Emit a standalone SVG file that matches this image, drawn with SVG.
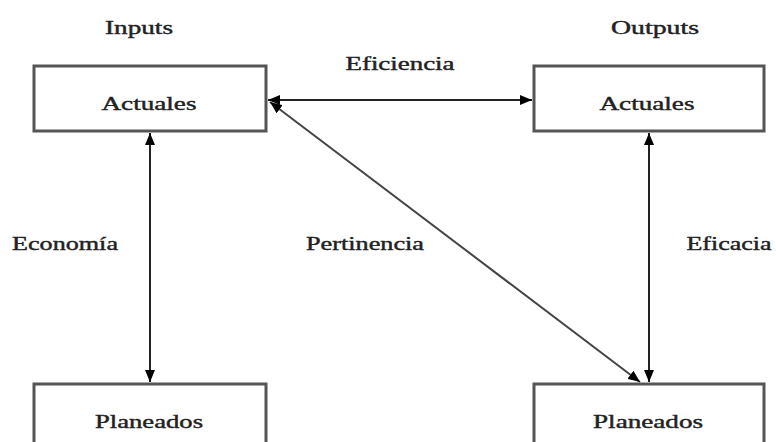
<svg xmlns="http://www.w3.org/2000/svg" width="776" height="442" viewBox="0 0 776 442">
<defs>
<marker id="ah" viewBox="0 0 12 10" refX="12" refY="5" markerWidth="12" markerHeight="10" markerUnits="userSpaceOnUse" orient="auto-start-reverse">
<path d="M0,0 L12,5 L0,10 z" fill="#000"/>
</marker>
<style>
.box{fill:#fff;stroke:#555;stroke-width:3}
.t{font-family:"Liberation Serif","Times New Roman",serif;font-size:18px;fill:#222;stroke:#222;stroke-width:0.4;text-anchor:middle}
.c{stroke:#222;stroke-width:2;fill:none}
.d{stroke:#444;stroke-width:2;fill:none}
</style>
</defs>
<rect width="776" height="442" fill="#fff"/>
<text class="t" x="139" y="34" textLength="68" lengthAdjust="spacingAndGlyphs">Inputs</text>
<text class="t" x="655" y="34" textLength="88" lengthAdjust="spacingAndGlyphs">Outputs</text>
<g id="in-actuales">
<rect class="box" x="34" y="66" width="232" height="65"/>
<text class="t" x="149" y="110" textLength="95" lengthAdjust="spacingAndGlyphs">Actuales</text>
</g>
<g id="out-actuales">
<rect class="box" x="534" y="66" width="230" height="65"/>
<text class="t" x="647" y="110" textLength="95" lengthAdjust="spacingAndGlyphs">Actuales</text>
</g>
<g id="in-planeados">
<rect class="box" x="34" y="384" width="232" height="70"/>
<text class="t" x="149" y="428" textLength="108" lengthAdjust="spacingAndGlyphs">Planeados</text>
</g>
<g id="out-planeados">
<rect class="box" x="534" y="384" width="230" height="70"/>
<text class="t" x="648" y="428" textLength="110" lengthAdjust="spacingAndGlyphs">Planeados</text>
</g>
<g id="connectors">
<line class="c" x1="268" y1="100" x2="532" y2="100" marker-start="url(#ah)" marker-end="url(#ah)"/>
<line class="c" x1="150" y1="133" x2="150" y2="382" marker-start="url(#ah)" marker-end="url(#ah)"/>
<line class="c" x1="649" y1="133" x2="649" y2="382" marker-start="url(#ah)" marker-end="url(#ah)"/>
<line class="d" x1="270" y1="102" x2="640" y2="382" marker-start="url(#ah)" marker-end="url(#ah)"/>
</g>
<text class="t" x="400" y="70" textLength="109" lengthAdjust="spacingAndGlyphs">Eficiencia</text>
<text class="t" x="65" y="250" textLength="106" lengthAdjust="spacingAndGlyphs">Economía</text>
<text class="t" x="365" y="250" textLength="118" lengthAdjust="spacingAndGlyphs">Pertinencia</text>
<text class="t" x="729" y="250" textLength="85" lengthAdjust="spacingAndGlyphs">Eficacia</text>
</svg>
